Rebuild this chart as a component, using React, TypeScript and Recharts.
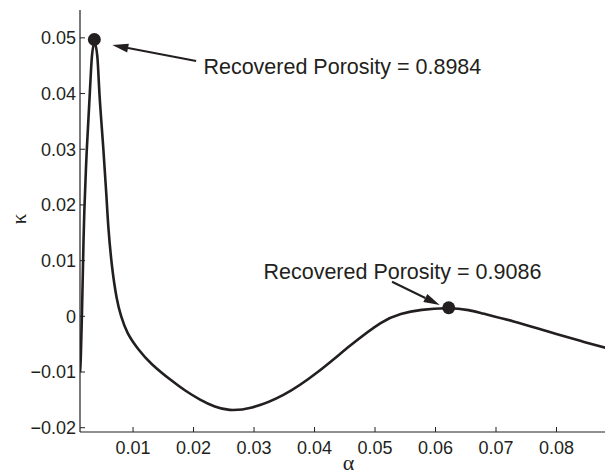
import { LineChart, Line, XAxis, YAxis, ReferenceDot, ReferenceLine } from 'recharts';

const INK = '#231f20';
const SANS = '"Liberation Sans", Arial, Helvetica, sans-serif';
const SERIF = '"Liberation Serif", "Times New Roman", serif';

// curve samples
const alpha = [
  0.00123, 0.00135, 0.00161, 0.00178, 0.00189, 0.00234, 0.00288, 0.00317, 0.0036, 0.00416,
  0.00437, 0.00509, 0.00565, 0.00586, 0.00648, 0.0073, 0.008, 0.00896, 0.01088, 0.01281,
  0.01662, 0.0186, 0.02108, 0.02357, 0.02572, 0.02936, 0.03482, 0.04045, 0.04591, 0.05137,
  0.05418, 0.05749, 0.06218, 0.06577, 0.06742, 0.07288, 0.07851, 0.08397, 0.09,
];
const kappa = [
  -0.01, -0.0087, 0.0029, 0.0119, 0.0178, 0.0304, 0.0403, 0.0473, 0.0499, 0.0473,
  0.0403, 0.0304, 0.0209, 0.0164, 0.0088, 0.0029, 0.0, -0.003, -0.006, -0.00844,
  -0.01179, -0.01335, -0.01502, -0.01632, -0.01694, -0.01669, -0.01443, -0.01023, -0.00515, -0.00066,
  0.0005, 0.00122, 0.00158, 0.00113, 0.00059, -0.00084, -0.00273, -0.00443, -0.00623,
];

const xTicks = [0.01, 0.02, 0.03, 0.04, 0.05, 0.06, 0.07, 0.08];
const yTicks = [-0.02, -0.01, 0, 0.01, 0.02, 0.03, 0.04, 0.05];

// annotations
const peakAlpha = [0.0036, 0.06218];
const peakKappa = [0.0497, 0.00154];
const noteText = ['Recovered Porosity = 0.8984', 'Recovered Porosity = 0.9086'];
const noteAlpha = [0.02163, 0.03156];
const noteKappa = [0.0435, 0.00664];
const tailAlpha = [0.02043, 0.05281];
const tailKappa = [0.04583, 0.00621];
const tipAlpha = [0.00657, 0.06069];
const tipKappa = [0.0487, 0.00203];

const data = alpha.map((a, i) => ({ alpha: a, kappa: kappa[i] }));

const fmtY = (v: number) => (v === 0 ? '0' : v < 0 ? '\u2212' + Math.abs(v).toFixed(2) : v.toFixed(2));

function Arrow(props: any) {
  const { x1, y1, x2, y2 } = props;
  const dx = x2 - x1;
  const dy = y2 - y1;
  const len = Math.hypot(dx, dy) || 1;
  const ux = dx / len;
  const uy = dy / len;
  const hl = 16;
  const hw = 4.5;
  const bx = x2 - ux * hl;
  const by = y2 - uy * hl;
  return (
    <g>
      <line x1={x1} y1={y1} x2={bx} y2={by} stroke={INK} strokeWidth={2} />
      <polygon
        points={`${x2},${y2} ${bx - uy * hw},${by + ux * hw} ${bx + uy * hw},${by - ux * hw}`}
        fill={INK}
      />
    </g>
  );
}

function YLabel(props: any) {
  const vb = props.viewBox || { x: 0, y: 0, width: 0, height: 0 };
  const x = vb.x + 11;
  const y = vb.y + vb.height / 2 - 2;
  return (
    <text
      x={x}
      y={y}
      transform={`rotate(-90 ${x} ${y})`}
      textAnchor="middle"
      dominantBaseline="central"
      fontSize={21}
      fontFamily={SERIF}
      fill={INK}
    >
      κ
    </text>
  );
}

const tickStyle = { fill: INK, fontSize: 18, fontFamily: SANS };

export default function App() {
  return (
    <div style={{ width: 605, height: 466, overflow: 'hidden', background: '#fff' }}>
      <LineChart width={609} height={466} data={data} margin={{ top: 2, right: 0, bottom: 0, left: 0 }}>
        <XAxis
          dataKey="alpha"
          type="number"
          domain={[0.00123, 0.09]}
          allowDataOverflow
          ticks={xTicks}
          tickFormatter={(v: number) => v.toFixed(2)}
          height={42}
          tickSize={-5}
          tickMargin={14}
          tick={tickStyle}
          stroke={INK}
          axisLine={{ stroke: INK, strokeWidth: 1.2 }}
          tickLine={{ stroke: INK }}
          label={{ value: 'α', position: 'insideBottom', offset: 4, fill: INK, fontSize: 22, fontFamily: SERIF }}
        />
        <XAxis
          xAxisId="top"
          orientation="top"
          type="number"
          domain={[0.00123, 0.09]}
          allowDataOverflow
          ticks={xTicks}
          tickFormatter={() => ''}
          height={0}
          tickSize={-5}
          stroke={INK}
          axisLine={{ stroke: INK, strokeWidth: 1.2 }}
          tickLine={{ stroke: INK }}
        />
        <YAxis
          type="number"
          domain={[-0.02077, 0.055]}
          allowDataOverflow
          ticks={yTicks}
          tickFormatter={fmtY}
          width={72}
          tickSize={-5}
          tickMargin={9}
          tick={tickStyle}
          stroke={INK}
          axisLine={{ stroke: INK, strokeWidth: 1.2 }}
          tickLine={{ stroke: INK }}
          label={<YLabel />}
        />
        <YAxis
          yAxisId="right"
          orientation="right"
          type="number"
          domain={[-0.02077, 0.055]}
          allowDataOverflow
          ticks={yTicks}
          tickFormatter={() => ''}
          width={0}
          tickSize={-5}
          stroke={INK}
          axisLine={false}
          tickLine={{ stroke: INK }}
        />
        <Line
          type="basis"
          dataKey="kappa"
          stroke={INK}
          strokeWidth={2.6}
          dot={false}
          isAnimationActive={false}
        />
        {peakAlpha.map((a, i) => (
          <ReferenceDot key={'p' + i} x={a} y={peakKappa[i]} r={6.5} fill={INK} stroke="none" />
        ))}
        {tailAlpha.map((a, i) => (
          <ReferenceLine
            key={'a' + i}
            segment={[
              { x: a, y: tailKappa[i] },
              { x: tipAlpha[i], y: tipKappa[i] },
            ]}
            shape={(p: any) => <Arrow {...p} />}
          />
        ))}
        {noteText.map((t, i) => (
          <ReferenceDot
            key={'n' + i}
            x={noteAlpha[i]}
            y={noteKappa[i]}
            r={0}
            shape={(p: any) => (
              <text x={p.cx} y={p.cy} fontSize={21.5} fontFamily={SANS} fill={INK} textAnchor="start">
                {t}
              </text>
            )}
          />
        ))}
      </LineChart>
    </div>
  );
}
